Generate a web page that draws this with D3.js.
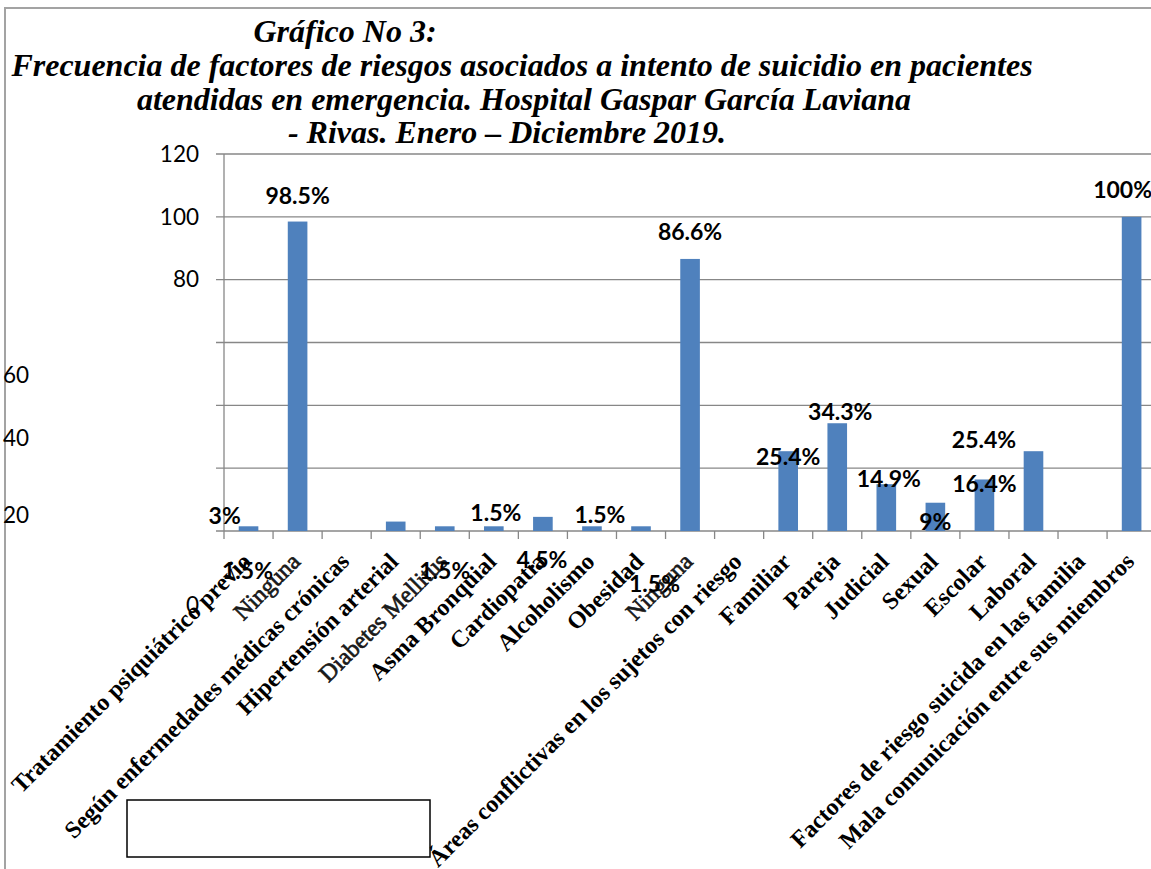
<!DOCTYPE html>
<html>
<head>
<meta charset="utf-8">
<script src="https://cdn.jsdelivr.net/npm/d3@7"></script>
<style>
  html, body { margin: 0; padding: 0; background: #fff; overflow: hidden; }
  svg { display: block; }
</style>
</head>
<body>
<svg id="chart" width="1151" height="869"></svg>
<script>
// ---- data ----
const categories = [
  "Tratamiento psiquiátrico previo",
  "Ninguna",
  "Según enfermedades médicas crónicas",
  "Hipertensión arterial",
  "Diabetes Mellitus",
  "Asma Bronquial",
  "Cardiopatía",
  "Alcoholismo",
  "Obesidad",
  "Ninguna",
  "Áreas conflictivas en los sujetos con riesgo",
  "Familiar",
  "Pareja",
  "Judicial",
  "Sexual",
  "Escolar",
  "Laboral",
  "Factores de riesgo suicida en las familia",
  "Mala comunicación entre sus miembros"
];
const values = [1.5, 98.5, 0, 3, 1.5, 1.5, 4.5, 1.5, 1.5, 86.6, 0, 25.4, 34.3, 14.9, 9, 16.4, 25.4, 0, 100];
const labelledBars = [0, 1, 3, 4, 5, 6, 7, 8, 9, 11, 12, 13, 14, 15, 16, 18];
const yTicks = [0, 20, 40, 60, 80, 100, 120];
const titleLines = [
  "Gráfico No 3:",
  "Frecuencia de factores de riesgos asociados a intento de suicidio en pacientes",
  "atendidas en emergencia. Hospital Gaspar García Laviana",
  "- Rivas. Enero – Diciembre 2019."
];
// rows drawn with a regular-weight label
const lightLabels = [1, 4, 9];

// ---- layout ----
const plot = { left: 224, top: 154, bottom: 531, right: 224 + 19 * 49.06 };

// hand-placed data labels: offset of label baseline-centre from the bar top
const labelNudge = {
  0: [-1, 53], 1: [0, -18], 3: [-171, 2.5], 4: [0, 53], 5: [2, -5.5],
  6: [-1, 51], 7: [8, -3], 8: [13.5, 66], 9: [0, -19], 11: [0, 14],
  12: [3, -3], 13: [2.5, 3], 14: [0, 27], 15: [0, 13], 16: [-49.5, -3],
  18: [-9, -18.5]
};
// hand-placed value-axis labels: offset from the default axis position
const tickNudge = { 60: [-170, 33], 40: [-170, 33], 20: [-170, 47], 0: [0, 74] };
// title line centres (x) and baselines (y)
const titlePos = [[345, 42], [522, 76], [524, 110], [507, 143]];

const gridColor = "#878787";
const barColor = "#4F81BD";

const svg = d3.select("#chart");

// page frame
svg.append("path")
  .attr("d", "M5,869V8H1151")
  .attr("fill", "none")
  .attr("stroke", "#a3a3a3")
  .attr("stroke-width", 2);

// scales
const x = d3.scaleBand()
  .domain(d3.range(categories.length))
  .range([plot.left, plot.right])
  .paddingInner(0.6)
  .paddingOuter(0.3);
const y = d3.scaleLinear().domain([0, 120]).range([plot.bottom, plot.top]);

// gridlines (with outside tick stubs)
svg.append("g").selectAll("line")
  .data(yTicks)
  .join("line")
  .attr("x1", plot.left - 8)
  .attr("x2", plot.right)
  .attr("y1", d => y(d))
  .attr("y2", d => y(d))
  .attr("stroke", gridColor)
  .attr("stroke-width", 1.3);

// value axis
const yAxis = svg.append("g")
  .attr("transform", `translate(${plot.left},0)`)
  .call(d3.axisLeft(y).tickValues(yTicks).tickSize(8).tickPadding(17));
yAxis.select(".domain").attr("stroke", gridColor).attr("stroke-width", 1.3).attr("d", `M0,${plot.top}V${plot.bottom}`);
yAxis.selectAll(".tick line").remove();
yAxis.selectAll(".tick text")
  .attr("font-family", "Lato, 'Liberation Sans', sans-serif")
  .attr("font-size", 22.5)
  .attr("fill", "#000")
  .attr("transform", d => {
    const n = tickNudge[d] || [0, 0];
    return `translate(${n[0]},${n[1]})`;
  });

// category axis: boundary ticks
const step = x.step();
svg.append("g").selectAll("line")
  .data(d3.range(categories.length + 1))
  .join("line")
  .attr("x1", i => plot.left + i * step)
  .attr("x2", i => plot.left + i * step)
  .attr("y1", plot.bottom)
  .attr("y2", plot.bottom + 8)
  .attr("stroke", gridColor)
  .attr("stroke-width", 1.3);

// bars
svg.append("g").selectAll("rect")
  .data(values)
  .join("rect")
  .attr("x", (d, i) => x(i))
  .attr("width", x.bandwidth())
  .attr("y", d => y(d))
  .attr("height", d => plot.bottom - y(d))
  .attr("fill", barColor);

// empty caption box
svg.append("rect")
  .attr("x", 127).attr("y", 800)
  .attr("width", 303).attr("height", 57)
  .attr("fill", "#fff")
  .attr("stroke", "#000")
  .attr("stroke-width", 1.5);

// category labels, rotated
svg.append("g").selectAll("text")
  .data(categories)
  .join("text")
  .attr("transform", (d, i) => `translate(${x(i) + x.bandwidth() / 2 + 4},563) rotate(-45)`)
  .attr("text-anchor", "end")
  .attr("font-family", "'Liberation Serif', 'Times New Roman', serif")
  .attr("font-size", 24)
  .attr("font-weight", (d, i) => lightLabels.includes(i) ? "normal" : "bold")
  .attr("fill", (d, i) => lightLabels.includes(i) ? "#1a1a1a" : "#000")
  .attr("stroke", (d, i) => lightLabels.includes(i) ? "#1a1a1a" : "none")
  .attr("stroke-width", 0.7)
  .text(d => d);

// data labels
svg.append("g").selectAll("text")
  .data(labelledBars)
  .join("text")
  .attr("x", i => x(i) + x.bandwidth() / 2 + labelNudge[i][0])
  .attr("y", i => y(values[i]) + labelNudge[i][1])
  .attr("text-anchor", "middle")
  .attr("font-family", "Lato, 'Liberation Sans', sans-serif")
  .attr("font-weight", "bold")
  .attr("font-size", 23)
  .attr("fill", "#000")
  .text(i => values[i] + "%");

// title
svg.append("g").selectAll("text")
  .data(titleLines)
  .join("text")
  .attr("x", (d, i) => titlePos[i][0])
  .attr("y", (d, i) => titlePos[i][1])
  .attr("text-anchor", "middle")
  .attr("font-family", "'Liberation Serif', 'Times New Roman', serif")
  .attr("font-style", "italic")
  .attr("font-weight", "bold")
  .attr("font-size", 32)
  .attr("fill", "#000")
  .text(d => d);
</script>
</body>
</html>
